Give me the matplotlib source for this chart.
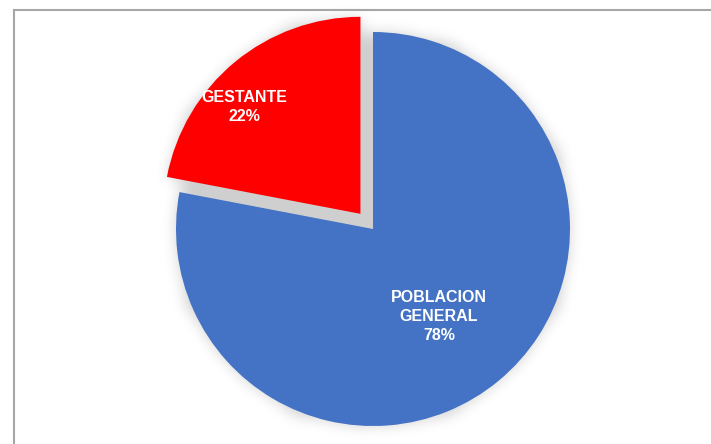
import matplotlib
matplotlib.use("Agg")
import numpy as np
import matplotlib.pyplot as plt
from matplotlib.lines import Line2D
from matplotlib.patches import Circle

categories = ["GESTANTE", "POBLACION\nGENERAL"]
values = [22, 78]
colors = ["#FF0000", "#4472C4"]
explode = [0.1, 0.0]

W, H, DPI = 711, 444, 100
fig = plt.figure(figsize=(W / DPI, H / DPI), dpi=DPI)
fig.patch.set_facecolor("white")
ax = fig.add_axes([0, 0, 1, 1])

wedges, _ = ax.pie(values, explode=explode, startangle=90, counterclock=True,
                   colors=colors, wedgeprops=dict(linewidth=0))
for w in wedges:
    w.set_zorder(3)

cx, cy, R = 373, 229, 197
xlim = (-cx / R, (W - cx) / R)
ylim = (-(H - cy) / R, cy / R)
ax.set_xlim(*xlim)
ax.set_ylim(*ylim)
ax.set_aspect("auto")
ax.axis("off")

# soft shadow: blurred mask of the pie (un-exploded disc + exploded wedges)
fig.canvas.draw()
xs = np.linspace(xlim[0], xlim[1], W)
ys = np.linspace(ylim[1], ylim[0], H)
gx, gy = np.meshgrid(xs, ys)
pts = np.column_stack([gx.ravel(), gy.ravel()])
mask = np.zeros(pts.shape[0], dtype=bool)
disc = Circle((0, 0), 1.0)
shapes = [disc] + list(wedges)
for p in shapes:
    path = p.get_path().transformed(p.get_patch_transform())
    mask |= path.contains_points(pts)
mask = mask.reshape(H, W).astype(float)

sigma = 7.0
k = np.arange(-int(3 * sigma), int(3 * sigma) + 1)
kern = np.exp(-0.5 * (k / sigma) ** 2)
kern /= kern.sum()
pad = len(k)
m = np.pad(mask, pad)
m = np.apply_along_axis(lambda r: np.convolve(r, kern, mode="same"), 1, m)
m = np.apply_along_axis(lambda c: np.convolve(c, kern, mode="same"), 0, m)
m = m[pad:-pad, pad:-pad]
rgba = np.zeros((H, W, 4))
rgba[..., 3] = 0.19 * m
ax.imshow(rgba, extent=(xlim[0], xlim[1], ylim[0], ylim[1]), origin="upper",
          zorder=1, interpolation="bilinear", aspect="auto")
ax.set_xlim(*xlim)
ax.set_ylim(*ylim)

total = sum(values)
label_pos = [(-0.655, 0.619), (0.335, -0.444)]
for cat, v, (x, y) in zip(categories, values, label_pos):
    ax.text(x, y, f"{cat}\n{round(100 * v / total)}%", ha="center", va="center",
            color="white", fontsize=11.5, fontweight="bold",
            family="Liberation Sans", linespacing=1.33, zorder=5)

# chart frame (extends past right and bottom edges)
fc = "#A6A6A6"
fig.add_artist(Line2D([13.5 / W, 1.0], [1 - 10.5 / H, 1 - 10.5 / H],
                      transform=fig.transFigure, color=fc, linewidth=1.5))
fig.add_artist(Line2D([13.5 / W, 13.5 / W], [0.0, 1 - 10.5 / H],
                      transform=fig.transFigure, color=fc, linewidth=1.5))

fig.savefig("out.png", dpi=DPI, facecolor="white")
